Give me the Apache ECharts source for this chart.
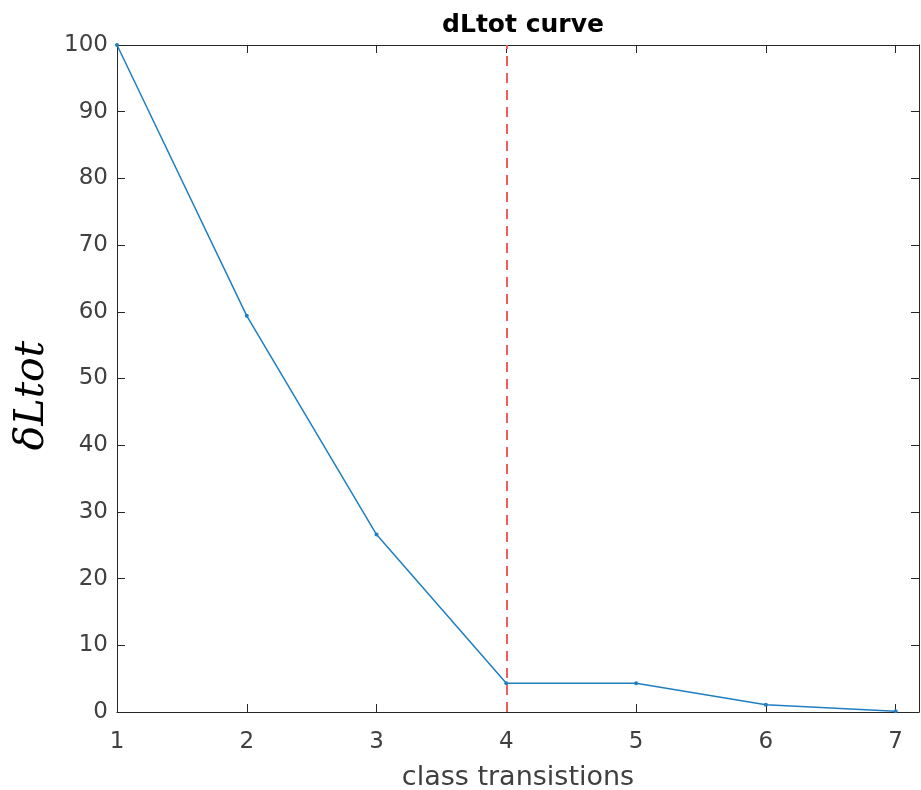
<!DOCTYPE html>
<html><head><meta charset="utf-8">
<script src="https://cdn.jsdelivr.net/npm/echarts@6/dist/echarts.min.js"></script>
<style>html,body{margin:0;padding:0;background:#fff}#c{width:921px;height:790px}</style>
</head><body><div id="c"></div>
<script>
const transitions = [1, 2, 3, 4, 5, 6, 7];
const dLtot = [100, 59.4, 26.6, 4.3, 4.3, 1.1, 0.1];
const cutX = 4;
const yTicks = [0, 10, 20, 30, 40, 50, 60, 70, 80, 90, 100];

const chart = echarts.init(document.getElementById('c'));
const axisCol = '#262626';
const labelCol = '#404040';
const baseX = {
  type: 'value', min: 1, max: 7.18, interval: 1,
  axisLine: {show: true, onZero: false, lineStyle: {color: axisCol, width: 1}},
  axisTick: {show: true, inside: true, length: 8, lineStyle: {color: axisCol}},
  splitLine: {show: false}
};
const baseY = {
  type: 'value', min: 0, max: 100, interval: 10,
  axisLine: {show: true, onZero: false, lineStyle: {color: axisCol, width: 1}},
  axisTick: {show: true, inside: true, length: 8, lineStyle: {color: axisCol}},
  splitLine: {show: false}
};
chart.setOption({
  animation: false,
  title: {text: 'dLtot curve', left: 518, top: 8, textAlign: 'center',
    textStyle: {fontFamily: 'DejaVu Sans', fontWeight: 'bold', fontSize: 25, color: '#000'}},
  grid: {left: 117, top: 45, right: 2, bottom: 78, containLabel: false, outerBoundsMode: 'none'},
  xAxis: [
    Object.assign({}, baseX, {position: 'bottom',
      name: 'class transistions', nameLocation: 'middle', nameGap: 52,
      nameTextStyle: {fontFamily: 'DejaVu Sans', fontSize: 27, color: labelCol},
      axisLabel: {show: true, fontFamily: 'DejaVu Sans', fontSize: 23, color: labelCol, margin: 19,
        formatter: v => (Number.isInteger(v) && transitions.includes(v)) ? String(v) : ''}}),
    Object.assign({}, baseX, {position: 'top', axisLabel: {show: false}})
  ],
  yAxis: [
    Object.assign({}, baseY, {position: 'left',
      name: 'δLtot', nameLocation: 'middle', nameGap: 57,
      nameTextStyle: {fontFamily: 'DejaVu Serif', fontStyle: 'italic', fontSize: 41, color: '#000',
        padding: [0, 34, 0, 0]},
      axisLabel: {show: true, fontFamily: 'DejaVu Sans', fontSize: 23, color: labelCol, margin: 9,
        formatter: v => yTicks.includes(v) ? String(v) : ''}}),
    Object.assign({}, baseY, {position: 'right', axisLabel: {show: false}})
  ],
  series: [
    {type: 'line', data: transitions.map((x, i) => [x, dLtot[i]]),
      symbol: 'circle', symbolSize: 4,
      lineStyle: {color: '#1f7fc0', width: 1.5},
      itemStyle: {color: '#1f7fc0'},
      markLine: {silent: true, symbol: 'none', label: {show: false},
        lineStyle: {color: '#f25c5c', type: [10, 7], width: 2},
        data: [{xAxis: cutX}]}
    }
  ]
});
</script></body></html>
